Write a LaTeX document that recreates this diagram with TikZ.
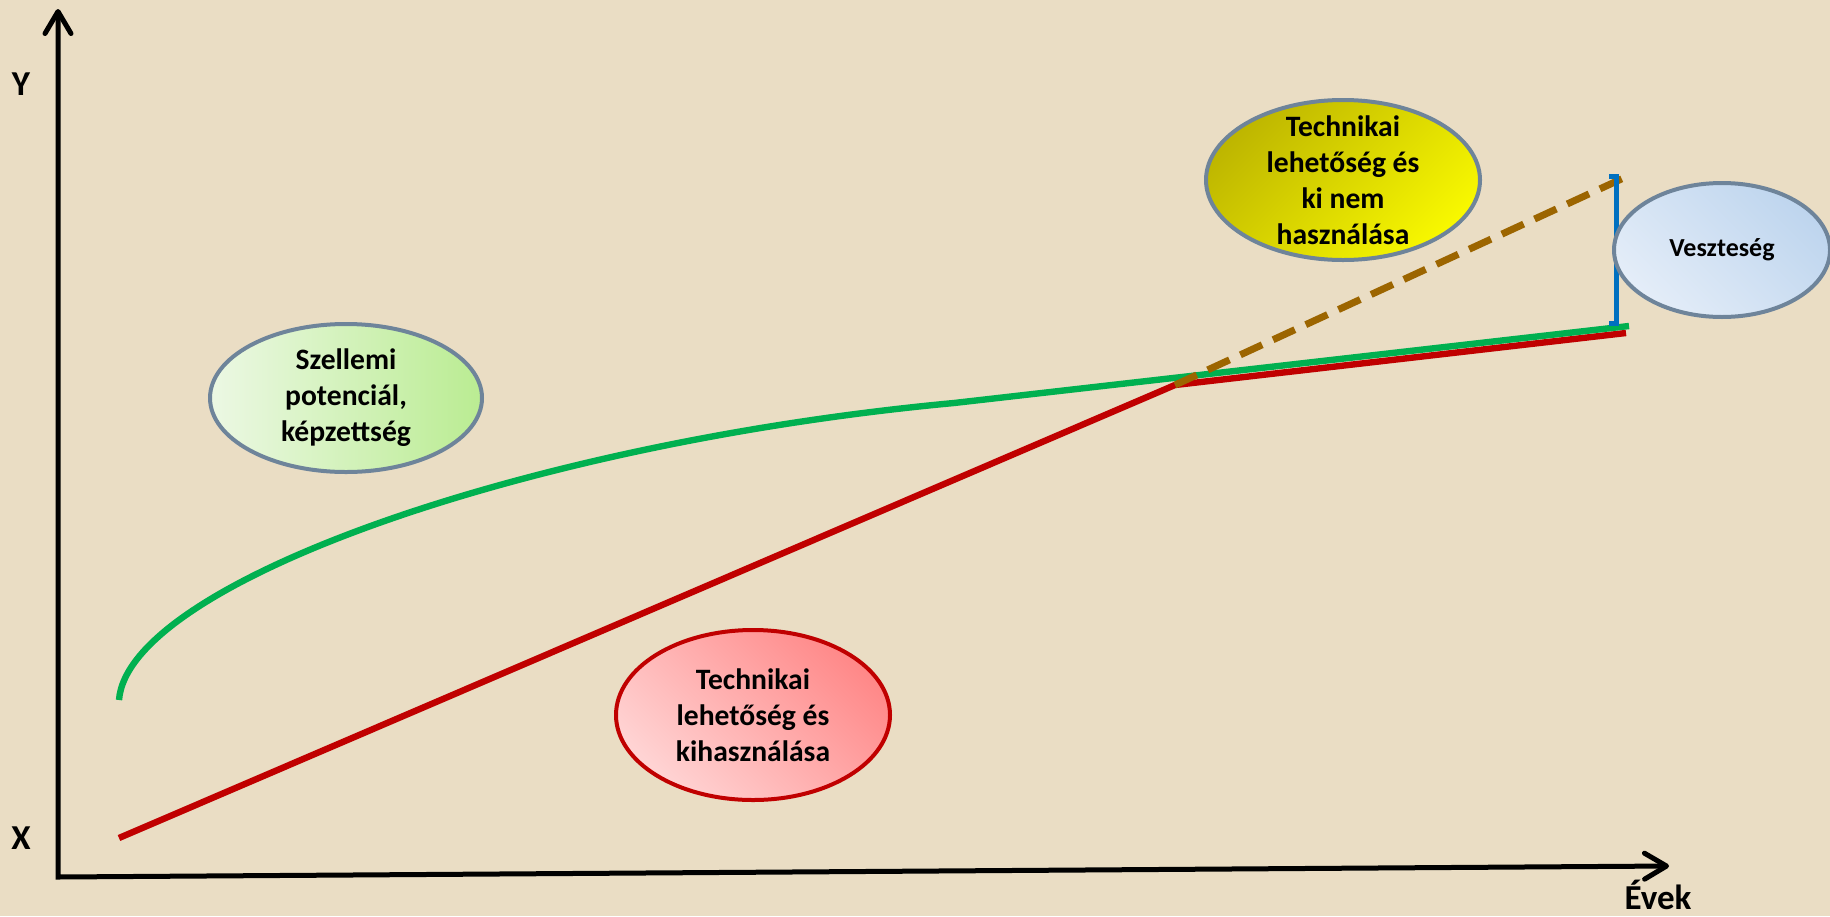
\documentclass[tikz,border=0pt]{standalone}
\usepackage{fontspec}
\setmainfont{Carlito}
\usepackage{tikz}
\usetikzlibrary{arrows.meta,shapes.geometric}

\definecolor{bgbeige}{RGB}{234,221,196}
\definecolor{potgreen}{RGB}{0,176,80}
\definecolor{techred}{RGB}{192,0,0}
\definecolor{lostbrown}{RGB}{156,101,0}
\definecolor{lossblue}{RGB}{0,112,192}
\definecolor{rimgray}{RGB}{110,132,154}

\begin{document}
\begin{tikzpicture}[
  x=0.5pt,y=-0.5pt,
  bubble/.style={ellipse, draw=rimgray, line width=2pt, inner sep=0pt, outer sep=0pt},
  bubbletext/.style={align=center, font=\fontsize{14.8}{18}\selectfont\bfseries},
  axislabel/.style={font=\fontsize{17.5}{20}\selectfont\bfseries},
  axis/.style={line width=2.5pt,
    {Straight Barb[length=11pt,width=13pt,round]}-{Straight Barb[length=11pt,width=13pt,round]}},
  curve/.style={line width=3.2pt}
]
\fill[bgbeige] (0,0) rectangle (1830,916);
\useasboundingbox (0,0) rectangle (1830,916);

\coordinate (origin) at (58,877);
\coordinate (ytip) at (58,9);
\coordinate (xtip) at (1669,866);
\draw[axis] (ytip) -- (origin) -- (xtip);
\node[axislabel] (ylabel) at (21,84) {Y};
\node[axislabel] (xlabel) at (21,838) {X};
\node[axislabel] (evek) at (1658,895) {Évek};

\coordinate (redstart) at (119,838);
\coordinate (knee) at (1175,385);
\coordinate (redend) at (1626,333);
\coordinate (greenstart) at (119,700);
\coordinate (greenbend) at (954,403);
\coordinate (greenend) at (1629,326);
\coordinate (dashend) at (1630,175);
\coordinate (losstop) at (1616,176);
\coordinate (lossbottom) at (1616,323);

\draw[curve, techred] (redstart) -- (knee) -- (redend);
\draw[curve, potgreen] (greenstart) .. controls (128,584) and (525,443) .. (greenbend) -- (greenend);
\draw[lostbrown, line width=3.5pt, dash pattern=on 12pt off 6pt] (knee) -- (dashend);
\draw[lossblue, line width=2.5pt] (losstop) ++(-7,0) -- (losstop) -- (lossbottom) -- ++(-7,0);

\node[bubble, minimum width=136pt, minimum height=74pt,
  left color={rgb,255:red,236;green,248;blue,228}, right color={rgb,255:red,186;green,236;blue,146}]
  (szellemi) at (346,398) {};
\node[bubble, draw=techred, minimum width=137pt, minimum height=85pt,
  left color={rgb,255:red,255;green,212;blue,212}, right color={rgb,255:red,255;green,136;blue,136},
  shading angle=135]
  (kihasznalas) at (753,715) {};
\node[bubble, minimum width=137pt, minimum height=80pt,
  left color={rgb,255:red,190;green,182;blue,0}, right color={rgb,255:red,248;green,248;blue,0},
  shading angle=45]
  (kinem) at (1343,180) {};
\node[bubble, minimum width=108pt, minimum height=67pt,
  left color={rgb,255:red,228;green,237;blue,248}, right color={rgb,255:red,190;green,213;blue,238},
  shading angle=135]
  (veszteseg) at (1722,250) {};

\node[bubbletext] (szellemitext) at (szellemi) {Szellemi\\potenciál,\\képzettség};
\node[bubbletext] (kihasznalastext) at (kihasznalas) {Technikai\\lehetőség és\\kihasználása};
\node[bubbletext] (kinemtext) at (kinem) {Technikai\\lehetőség és\\ki nem\\használása};
\node[font=\fontsize{13}{15}\selectfont\bfseries] (vesztesegtext) at (veszteseg) {Veszteség};
\end{tikzpicture}
\end{document}
